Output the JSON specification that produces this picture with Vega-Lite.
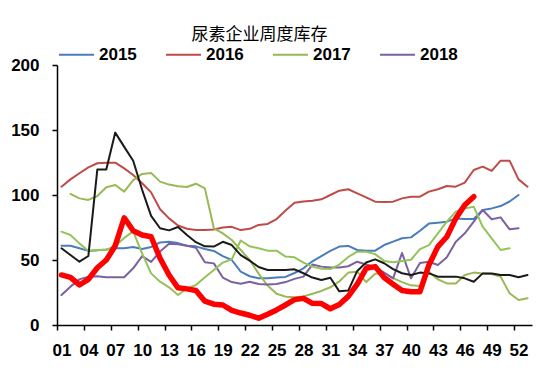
{
"$schema":"https://vega.github.io/schema/vega-lite/v6.json",
"width":475,"height":260,
"autosize":{"type":"none"},
"padding":{"left":57,"top":65,"right":18,"bottom":47},
"background":"white",
"title":{"text":"尿素企业周度库存","font":"Noto Sans CJK SC","fontSize":17,"fontWeight":"normal","color":"#000","anchor":"middle","frame":"group","dx":-35,"offset":-8},
"config":{"view":{"stroke":null},
"axis":{"grid":false,"title":null,"domainColor":"#000","domainWidth":1.5,"tickColor":"#000","tickWidth":1.5,"tickSize":5,"labelFont":"Liberation Sans","labelFontSize":17,"labelFontWeight":"bold","labelColor":"#000","labelPadding":12},
"legend":{"labelFont":"Liberation Sans","labelFontSize":17,"labelFontWeight":"bold","labelColor":"#000","padding":0}},
"data":{"values":[
{"s":"2015","w":1,"v":61},{"s":"2015","w":2,"v":61},{"s":"2015","w":3,"v":59},{"s":"2015","w":4,"v":57},{"s":"2015","w":5,"v":57.5},{"s":"2015","w":6,"v":58},{"s":"2015","w":7,"v":59},{"s":"2015","w":8,"v":59},{"s":"2015","w":9,"v":60},{"s":"2015","w":10,"v":58.5},{"s":"2015","w":11,"v":60},{"s":"2015","w":12,"v":63.5},{"s":"2015","w":13,"v":64},{"s":"2015","w":14,"v":63},{"s":"2015","w":15,"v":61},{"s":"2015","w":16,"v":60.5},{"s":"2015","w":17,"v":58.5},{"s":"2015","w":18,"v":57},{"s":"2015","w":19,"v":53},{"s":"2015","w":20,"v":50},{"s":"2015","w":21,"v":41},{"s":"2015","w":22,"v":37.5},{"s":"2015","w":23,"v":36},{"s":"2015","w":24,"v":36},{"s":"2015","w":25,"v":36.5},{"s":"2015","w":26,"v":37},{"s":"2015","w":27,"v":40},{"s":"2015","w":28,"v":43.6},{"s":"2015","w":29,"v":49},{"s":"2015","w":30,"v":53},{"s":"2015","w":31,"v":57},{"s":"2015","w":32,"v":60.3},{"s":"2015","w":33,"v":60.8},{"s":"2015","w":34,"v":57.7},{"s":"2015","w":35,"v":57.2},{"s":"2015","w":36,"v":57.2},{"s":"2015","w":37,"v":61.5},{"s":"2015","w":38,"v":64.1},{"s":"2015","w":39,"v":66.7},{"s":"2015","w":40,"v":67.4},{"s":"2015","w":41,"v":72.5},{"s":"2015","w":42,"v":78},{"s":"2015","w":43,"v":78.7},{"s":"2015","w":44,"v":79.5},{"s":"2015","w":45,"v":82},{"s":"2015","w":46,"v":81.5},{"s":"2015","w":47,"v":81.5},{"s":"2015","w":48,"v":88.5},{"s":"2015","w":49,"v":89.7},{"s":"2015","w":50,"v":91.5},{"s":"2015","w":51,"v":95},{"s":"2015","w":52,"v":100},
{"s":"2016","w":1,"v":106.4},{"s":"2016","w":2,"v":112},{"s":"2016","w":3,"v":116.7},{"s":"2016","w":4,"v":121.3},{"s":"2016","w":5,"v":124.4},{"s":"2016","w":6,"v":124.9},{"s":"2016","w":7,"v":124.9},{"s":"2016","w":8,"v":120.5},{"s":"2016","w":9,"v":115.4},{"s":"2016","w":10,"v":109},{"s":"2016","w":11,"v":102},{"s":"2016","w":12,"v":89},{"s":"2016","w":13,"v":82},{"s":"2016","w":14,"v":76.5},{"s":"2016","w":15,"v":74},{"s":"2016","w":16,"v":73.1},{"s":"2016","w":17,"v":73.1},{"s":"2016","w":18,"v":73.5},{"s":"2016","w":19,"v":75},{"s":"2016","w":20,"v":75.5},{"s":"2016","w":21,"v":73},{"s":"2016","w":22,"v":74},{"s":"2016","w":23,"v":77},{"s":"2016","w":24,"v":77.7},{"s":"2016","w":25,"v":81.5},{"s":"2016","w":26,"v":88},{"s":"2016","w":27,"v":94},{"s":"2016","w":28,"v":95},{"s":"2016","w":29,"v":95.6},{"s":"2016","w":30,"v":96.7},{"s":"2016","w":31,"v":100},{"s":"2016","w":32,"v":103.3},{"s":"2016","w":33,"v":104.4},{"s":"2016","w":34,"v":101.3},{"s":"2016","w":35,"v":98.2},{"s":"2016","w":36,"v":94.9},{"s":"2016","w":37,"v":94.6},{"s":"2016","w":38,"v":94.9},{"s":"2016","w":39,"v":97.4},{"s":"2016","w":40,"v":98.7},{"s":"2016","w":41,"v":98.7},{"s":"2016","w":42,"v":102.6},{"s":"2016","w":43,"v":104.4},{"s":"2016","w":44,"v":106.9},{"s":"2016","w":45,"v":106.4},{"s":"2016","w":46,"v":109.5},{"s":"2016","w":47,"v":119.2},{"s":"2016","w":48,"v":121.8},{"s":"2016","w":49,"v":118.5},{"s":"2016","w":50,"v":126.4},{"s":"2016","w":51,"v":126.4},{"s":"2016","w":52,"v":112},{"s":"2016","w":53,"v":106.4},
{"s":"2017","w":2,"v":100.8},{"s":"2017","w":3,"v":97.4},{"s":"2017","w":4,"v":96.2},{"s":"2017","w":5,"v":99.2},{"s":"2017","w":6,"v":106},{"s":"2017","w":7,"v":107.7},{"s":"2017","w":8,"v":102.6},{"s":"2017","w":9,"v":111.5},{"s":"2017","w":10,"v":116.2},{"s":"2017","w":11,"v":117},{"s":"2017","w":12,"v":110.3},{"s":"2017","w":13,"v":108},{"s":"2017","w":14,"v":106.7},{"s":"2017","w":15,"v":106.2},{"s":"2017","w":16,"v":108.7},{"s":"2017","w":17,"v":105.1},{"s":"2017","w":18,"v":74.4},{"s":"2017","w":19,"v":70.5},{"s":"2017","w":20,"v":65.4},{"s":"2017","w":21,"v":57.7},{"s":"2017","w":22,"v":50},{"s":"2017","w":23,"v":39.5},{"s":"2017","w":24,"v":30.4},{"s":"2017","w":25,"v":24},{"s":"2017","w":26,"v":21.8},{"s":"2017","w":27,"v":21.3},{"s":"2017","w":28,"v":22},{"s":"2017","w":29,"v":24},{"s":"2017","w":30,"v":26.2},{"s":"2017","w":31,"v":29},{"s":"2017","w":32,"v":33.5},{"s":"2017","w":33,"v":40.3},{"s":"2017","w":34,"v":41},{"s":"2017","w":35,"v":33},{"s":"2017","w":36,"v":39.5},{"s":"2017","w":37,"v":40},{"s":"2017","w":38,"v":36},{"s":"2017","w":39,"v":33},{"s":"2017","w":40,"v":30.5},{"s":"2017","w":41,"v":30},{"s":"2017","w":42,"v":41},{"s":"2017","w":43,"v":35.1},{"s":"2017","w":44,"v":32},{"s":"2017","w":45,"v":32},{"s":"2017","w":46,"v":38.5},{"s":"2017","w":47,"v":40.3},{"s":"2017","w":48,"v":39.7},{"s":"2017","w":49,"v":39.2},{"s":"2017","w":50,"v":37.2},{"s":"2017","w":51,"v":24.4},{"s":"2017","w":52,"v":19.2},{"s":"2017","w":53,"v":20.5},
{"s":"2018","w":1,"v":23.1},{"s":"2018","w":2,"v":29.5},{"s":"2018","w":3,"v":35.1},{"s":"2018","w":4,"v":37.2},{"s":"2018","w":5,"v":37.5},{"s":"2018","w":6,"v":36.7},{"s":"2018","w":7,"v":36.7},{"s":"2018","w":8,"v":36.7},{"s":"2018","w":9,"v":43.6},{"s":"2018","w":10,"v":53},{"s":"2018","w":11,"v":48.5},{"s":"2018","w":12,"v":56.5},{"s":"2018","w":13,"v":62.5},{"s":"2018","w":14,"v":62.2},{"s":"2018","w":15,"v":61},{"s":"2018","w":16,"v":59.4},{"s":"2018","w":17,"v":48.3},{"s":"2018","w":18,"v":47.4},{"s":"2018","w":19,"v":36.5},{"s":"2018","w":20,"v":33},{"s":"2018","w":21,"v":31.7},{"s":"2018","w":22,"v":33.2},{"s":"2018","w":23,"v":31.5},{"s":"2018","w":24,"v":31.2},{"s":"2018","w":25,"v":31.5},{"s":"2018","w":26,"v":33},{"s":"2018","w":27,"v":35.5},{"s":"2018","w":28,"v":37.2},{"s":"2018","w":29,"v":46.5},{"s":"2018","w":30,"v":44.9},{"s":"2018","w":31,"v":44.2},{"s":"2018","w":32,"v":44.2},{"s":"2018","w":33,"v":45.2},{"s":"2018","w":34,"v":48.7},{"s":"2018","w":35,"v":46.5},{"s":"2018","w":36,"v":44.6},{"s":"2018","w":37,"v":40.3},{"s":"2018","w":38,"v":35.9},{"s":"2018","w":39,"v":55.4},{"s":"2018","w":40,"v":35.9},{"s":"2018","w":41,"v":47.7},{"s":"2018","w":42,"v":48.7},{"s":"2018","w":43,"v":46.2},{"s":"2018","w":44,"v":52.1},{"s":"2018","w":45,"v":64.1},{"s":"2018","w":46,"v":70.5},{"s":"2018","w":47,"v":79.5},{"s":"2018","w":48,"v":88.5},{"s":"2018","w":49,"v":81.3},{"s":"2018","w":50,"v":82.8},{"s":"2018","w":51,"v":73.6},{"s":"2018","w":52,"v":74.4},
{"s":"2019","w":1,"v":71.8},{"s":"2019","w":2,"v":69.2},{"s":"2019","w":3,"v":62.8},{"s":"2019","w":4,"v":57},{"s":"2019","w":5,"v":57.7},{"s":"2019","w":6,"v":57.7},{"s":"2019","w":7,"v":61},{"s":"2019","w":8,"v":67},{"s":"2019","w":9,"v":72},{"s":"2019","w":10,"v":55},{"s":"2019","w":11,"v":39.7},{"s":"2019","w":12,"v":33.3},{"s":"2019","w":13,"v":29},{"s":"2019","w":14,"v":23.1},{"s":"2019","w":15,"v":28.2},{"s":"2019","w":16,"v":30.8},{"s":"2019","w":17,"v":36.7},{"s":"2019","w":18,"v":42.3},{"s":"2019","w":19,"v":48},{"s":"2019","w":20,"v":50.5},{"s":"2019","w":21,"v":65},{"s":"2019","w":22,"v":60.5},{"s":"2019","w":23,"v":59},{"s":"2019","w":24,"v":57.2},{"s":"2019","w":25,"v":57.2},{"s":"2019","w":26,"v":52.6},{"s":"2019","w":27,"v":52.1},{"s":"2019","w":28,"v":48},{"s":"2019","w":29,"v":44.9},{"s":"2019","w":30,"v":43.2},{"s":"2019","w":31,"v":43},{"s":"2019","w":32,"v":46.5},{"s":"2019","w":33,"v":52.3},{"s":"2019","w":34,"v":56.4},{"s":"2019","w":35,"v":56.4},{"s":"2019","w":36,"v":54.5},{"s":"2019","w":37,"v":49.3},{"s":"2019","w":38,"v":48.3},{"s":"2019","w":39,"v":49.3},{"s":"2019","w":40,"v":50.2},{"s":"2019","w":41,"v":58.4},{"s":"2019","w":42,"v":61.5},{"s":"2019","w":43,"v":70.5},{"s":"2019","w":44,"v":79.5},{"s":"2019","w":45,"v":87.2},{"s":"2019","w":46,"v":89.7},{"s":"2019","w":47,"v":91},{"s":"2019","w":48,"v":75.6},{"s":"2019","w":49,"v":66.7},{"s":"2019","w":50,"v":57.7},{"s":"2019","w":51,"v":59},
{"s":"2020","w":1,"v":59},{"s":"2020","w":2,"v":53.8},{"s":"2020","w":3,"v":48.7},{"s":"2020","w":4,"v":53.1},{"s":"2020","w":5,"v":119.7},{"s":"2020","w":6,"v":119.7},{"s":"2020","w":7,"v":148},{"s":"2020","w":8,"v":137},{"s":"2020","w":9,"v":126.4},{"s":"2020","w":10,"v":104},{"s":"2020","w":11,"v":84},{"s":"2020","w":12,"v":74.4},{"s":"2020","w":13,"v":72.8},{"s":"2020","w":14,"v":75.4},{"s":"2020","w":15,"v":69.2},{"s":"2020","w":16,"v":63.7},{"s":"2020","w":17,"v":60.5},{"s":"2020","w":18,"v":60.3},{"s":"2020","w":19,"v":64},{"s":"2020","w":20,"v":61.5},{"s":"2020","w":21,"v":53.8},{"s":"2020","w":22,"v":49.5},{"s":"2020","w":23,"v":44.6},{"s":"2020","w":24,"v":42.3},{"s":"2020","w":25,"v":42.3},{"s":"2020","w":26,"v":42.3},{"s":"2020","w":27,"v":42.8},{"s":"2020","w":28,"v":39.8},{"s":"2020","w":29,"v":36.5},{"s":"2020","w":30,"v":34.6},{"s":"2020","w":31,"v":36.3},{"s":"2020","w":32,"v":25.9},{"s":"2020","w":33,"v":26.5},{"s":"2020","w":34,"v":41.6},{"s":"2020","w":35,"v":48.1},{"s":"2020","w":36,"v":50.5},{"s":"2020","w":37,"v":47.5},{"s":"2020","w":38,"v":43},{"s":"2020","w":39,"v":39.8},{"s":"2020","w":40,"v":38.5},{"s":"2020","w":41,"v":40.3},{"s":"2020","w":42,"v":39.7},{"s":"2020","w":43,"v":37.2},{"s":"2020","w":44,"v":37.2},{"s":"2020","w":45,"v":37.2},{"s":"2020","w":46,"v":35.9},{"s":"2020","w":47,"v":33.3},{"s":"2020","w":48,"v":39.7},{"s":"2020","w":49,"v":39.7},{"s":"2020","w":50,"v":38.5},{"s":"2020","w":51,"v":38.5},{"s":"2020","w":52,"v":36.7},{"s":"2020","w":53,"v":38.5},
{"s":"2021","w":1,"v":38.5},{"s":"2021","w":2,"v":36.7},{"s":"2021","w":3,"v":30.8},{"s":"2021","w":4,"v":35.1},{"s":"2021","w":5,"v":44},{"s":"2021","w":6,"v":50},{"s":"2021","w":7,"v":61},{"s":"2021","w":8,"v":82.5},{"s":"2021","w":9,"v":72.5},{"s":"2021","w":10,"v":69.2},{"s":"2021","w":11,"v":67.9},{"s":"2021","w":12,"v":51.3},{"s":"2021","w":13,"v":38.5},{"s":"2021","w":14,"v":28.6},{"s":"2021","w":15,"v":27.8},{"s":"2021","w":16,"v":26.6},{"s":"2021","w":17,"v":18.3},{"s":"2021","w":18,"v":16},{"s":"2021","w":19,"v":15.4},{"s":"2021","w":20,"v":11.2},{"s":"2021","w":21,"v":9.2},{"s":"2021","w":22,"v":7.5},{"s":"2021","w":23,"v":5.2},{"s":"2021","w":24,"v":8.3},{"s":"2021","w":25,"v":11.6},{"s":"2021","w":26,"v":15.4},{"s":"2021","w":27,"v":19.5},{"s":"2021","w":28,"v":20.5},{"s":"2021","w":29,"v":16.7},{"s":"2021","w":30,"v":16.5},{"s":"2021","w":31,"v":12.5},{"s":"2021","w":32,"v":15.8},{"s":"2021","w":33,"v":22},{"s":"2021","w":34,"v":31.4},{"s":"2021","w":35,"v":43.6},{"s":"2021","w":36,"v":44.9},{"s":"2021","w":37,"v":36.5},{"s":"2021","w":38,"v":31.4},{"s":"2021","w":39,"v":26.5},{"s":"2021","w":40,"v":25.6},{"s":"2021","w":41,"v":25.6},{"s":"2021","w":42,"v":46.2},{"s":"2021","w":43,"v":60.3},{"s":"2021","w":44,"v":67.9},{"s":"2021","w":45,"v":82},{"s":"2021","w":46,"v":92.3},{"s":"2021","w":47,"v":98.7}
]},
"encoding":{
"x":{"field":"w","type":"quantitative","scale":{"domain":[0.5,53.5],"nice":false,"zero":false},
"axis":{"values":[0.5,3.5,6.5,9.5,12.5,15.5,18.5,21.5,24.5,27.5,30.5,33.5,36.5,39.5,42.5,45.5,48.5,51.5],"labelExpr":"format(datum.value+0.5,'02d')","labelOffset":4.5,"labelPadding":12,"labelFlush":false,"labelOverlap":false}},
"y":{"field":"v","type":"quantitative","scale":{"domain":[0,200],"nice":false},"axis":{"values":[0,50,100,150,200],"labelPadding":13}},
"color":{"field":"s","type":"nominal","scale":{"domain":["2015","2016","2017","2018","2019","2020","2021"],"range":["#4A7EBB","#BE4B48","#98B954","#7D60A0","#92C45A","#1A1A1A","#FF0000"]},
"legend":{"values":["2015","2016","2017","2018"],"title":null,"orient":"none","legendX":1,"legendY":-29,"direction":"horizontal","symbolType":"stroke","symbolSize":1225,"symbolStrokeWidth":2,"labelOffset":4,"columnPadding":25}}
},
"layer":[
{"transform":[{"filter":"datum.s != '2021'"}],"mark":{"type":"line","strokeWidth":2,"strokeJoin":"round","strokeCap":"round"}},
{"transform":[{"filter":"datum.s == '2021'"}],"mark":{"type":"line","strokeWidth":5.5,"strokeJoin":"round","strokeCap":"round"}}
]
}
